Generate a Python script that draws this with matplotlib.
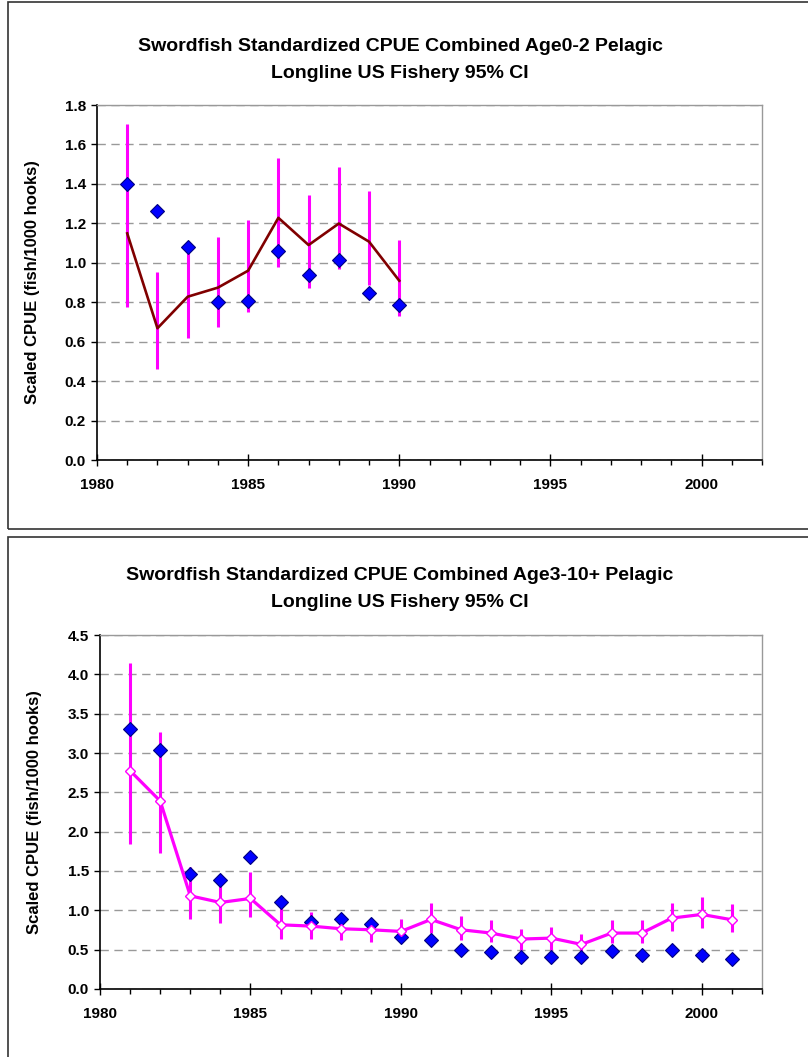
import matplotlib
matplotlib.use("Agg")
import matplotlib.pyplot as plt
from matplotlib.patches import Rectangle
from matplotlib.ticker import MultipleLocator, FormatStrFormatter

plt.rcParams['font.family'] = ['Liberation Sans', 'DejaVu Sans']
plt.rcParams['font.weight'] = 'bold'

# ---- Top chart: Age0-2 ----
years_a = [1981, 1982, 1983, 1984, 1985, 1986, 1987, 1988, 1989, 1990]
nominal_a = [1.40, 1.265, 1.08, 0.80, 0.806, 1.059, 0.938, 1.012, 0.847, 0.784]
std_a = [1.149, 0.668, 0.828, 0.874, 0.960, 1.228, 1.090, 1.199, 1.107, 0.909]
upper_a = [1.705, 0.955, 1.071, 1.130, 1.218, 1.532, 1.343, 1.484, 1.365, 1.117]
lower_a = [0.774, 0.461, 0.621, 0.673, 0.752, 0.980, 0.874, 0.967, 0.887, 0.732]

# ---- Bottom chart: Age3-10+ ----
years_b = list(range(1981, 2002))
nominal_b = [3.308, 3.037, 1.464, 1.387, 1.684, 1.112, 0.846, 0.888, 0.829, 0.660,
             0.626, 0.495, 0.465, 0.410, 0.410, 0.406, 0.478, 0.431, 0.495, 0.427, 0.376]
std_b = [2.775, 2.390, 1.184, 1.100, 1.151, 0.816, 0.800, 0.766, 0.753, 0.732,
         0.884, 0.753, 0.711, 0.635, 0.647, 0.567, 0.711, 0.711, 0.901, 0.948, 0.880]
upper_b = [4.146, 3.270, 1.557, 1.330, 1.481, 1.040, 0.977, 0.900, 0.890, 0.893,
           1.091, 0.926, 0.876, 0.757, 0.791, 0.694, 0.876, 0.871, 1.091, 1.168, 1.079]
lower_b = [1.840, 1.726, 0.888, 0.838, 0.909, 0.635, 0.635, 0.618, 0.592, 0.592,
           0.711, 0.618, 0.592, 0.499, 0.499, 0.457, 0.584, 0.584, 0.740, 0.770, 0.723]

title_a = "Swordfish Standardized CPUE Combined Age0-2 Pelagic\nLongline US Fishery 95% CI"
title_b = "Swordfish Standardized CPUE Combined Age3-10+ Pelagic\nLongline US Fishery 95% CI"
ylabel = "Scaled CPUE (fish/1000 hooks)"

W, H = 808, 1057
fig = plt.figure(figsize=(W / 100, H / 100), dpi=100)

# outer frames
fig.patches.append(Rectangle((8 / W, 1 - 529 / H), 805 / W, 527 / H, transform=fig.transFigure,
                             fill=False, edgecolor='#333333', lw=1.2))
fig.patches.append(Rectangle((8 / W, -0.01), 805 / W, 1 - 537 / H + 0.01, transform=fig.transFigure,
                             fill=False, edgecolor='#333333', lw=1.2))


def style_axes(ax, ymax, ystep, fmt, label_x):
    ax.set_xlim(1980, 2002)
    ax.set_ylim(0, ymax)
    ax.xaxis.set_major_locator(MultipleLocator(5))
    ax.xaxis.set_minor_locator(MultipleLocator(1))
    ax.yaxis.set_major_locator(MultipleLocator(ystep))
    ax.yaxis.set_major_formatter(FormatStrFormatter(fmt))
    ax.grid(axis='y', linestyle=(0, (6, 4)), color='#999999', lw=1)
    ax.set_axisbelow(True)
    for s in ['top', 'right']:
        ax.spines[s].set_color('#999999')
        ax.spines[s].set_linewidth(1)
    for s in ['left', 'bottom']:
        ax.spines[s].set_color('black')
        ax.spines[s].set_linewidth(1.2)
    ax.tick_params(axis='x', which='major', direction='inout', length=8, width=1, pad=9, labelsize=11)
    ax.tick_params(axis='x', which='minor', direction='out', length=3.5, width=1)
    ax.tick_params(axis='y', which='major', direction='out', length=4, width=1, pad=4, labelsize=11)
    for lab in ax.get_xticklabels() + ax.get_yticklabels():
        lab.set_fontweight('bold')
    ax.set_ylabel(ylabel, fontsize=12, fontweight='bold', va='center')
    ax.yaxis.set_label_coords(label_x, 0.5)


# top axes
ax1 = fig.add_axes([97 / W, 1 - 460 / H, (762 - 97) / W, (460 - 105) / H])
style_axes(ax1, 1.8, 0.2, '%.1f', (33 - 97) / 665)
ax1.vlines(years_a, lower_a, upper_a, color='#FF00FF', lw=2.2, zorder=2)
ax1.plot(years_a, std_a, color='#800000', lw=1.9, zorder=3)
ax1.plot(years_a, nominal_a, linestyle='none', marker='D', markersize=7,
         markerfacecolor='#0000FF', markeredgecolor='#000080', markeredgewidth=0.8, zorder=4)
fig.text(400 / W, 1 - 60 / H, title_a, ha='center', va='center', fontsize=14,
         fontweight='bold', linespacing=1.7)

# bottom axes
ax2 = fig.add_axes([100 / W, 1 - 989 / H, (762 - 100) / W, (989 - 635) / H])
style_axes(ax2, 4.5, 0.5, '%.1f', (35 - 100) / 662)
ax2.vlines(years_b, lower_b, upper_b, color='#FF00FF', lw=2.2, zorder=2)
ax2.plot(years_b, nominal_b, linestyle='none', marker='D', markersize=7,
         markerfacecolor='#0000FF', markeredgecolor='#000080', markeredgewidth=0.8, zorder=3)
ax2.plot(years_b, std_b, color='#FF00FF', lw=2.3, marker='D', markersize=5,
         markerfacecolor='white', markeredgecolor='#FF00FF', markeredgewidth=1, zorder=4)
fig.text(400 / W, 1 - 589 / H, title_b, ha='center', va='center', fontsize=14,
         fontweight='bold', linespacing=1.7)

fig.savefig("out.png", dpi=100)
